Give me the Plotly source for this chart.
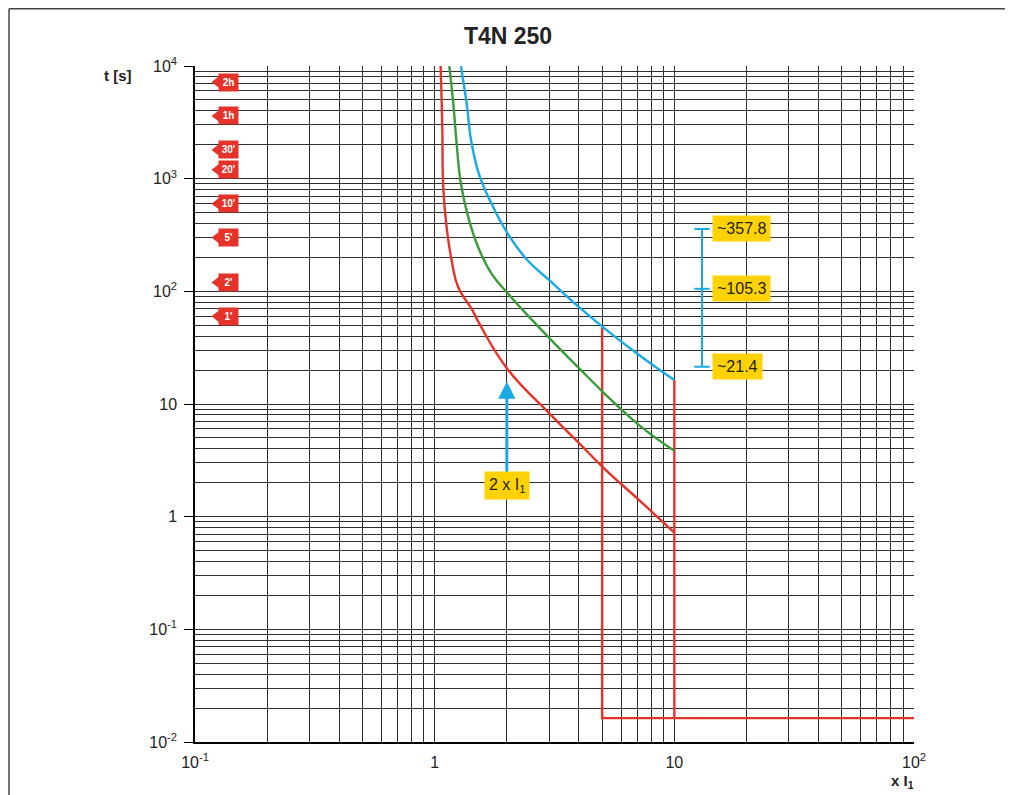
import numpy as np
import plotly.graph_objects as go

# ---------------- data ----------------
# tripping curves (x = multiple of I1, t = seconds)
red_x = [1.059, 1.076, 1.086, 1.122, 1.178, 1.254, 1.427, 1.545, 2.0, 3.03, 4.04, 5.05, 7.19, 10]
red_t = [10000, 2870, 840, 370, 187, 108.6, 69.8, 50.6, 20.8, 8.13, 4.40, 2.73, 1.38, 0.72]

green_x = [1.151, 1.196, 1.235, 1.287, 1.381, 1.52, 1.729, 2.0, 2.307, 3.03, 4.04, 5.05, 7.19, 10]
green_t = [10000, 4630, 2043, 901, 455, 246, 143, 98, 69.8, 37.8, 20.4, 12.7, 6.40, 3.84]

blue_x = [1.287, 1.36, 1.427, 1.545, 1.729, 2.0, 2.382, 3.08, 4.04, 5.05, 7.19, 10]
blue_t = [10000, 4630, 2043, 1031, 598, 335, 200, 120, 71.2, 47.9, 26.8, 16.3]

# instantaneous trip (red)
inst_x = [5, 5, 100, None, 10, 10]
inst_t = [47.9, 0.0163, 0.0163, None, 16.3, 0.0163]

# values read at 2 x I1
at2_values = [357.8, 105.3, 21.4]
at2_labels = ["~357.8", "~105.3", "~21.4"]
marker_multiple = 2

# time tags on the left
tag_labels = ["2h", "1h", "30'", "20'", "10'", "5'", "2'", "1'"]
tag_seconds = [7200, 3600, 1800, 1200, 600, 300, 120, 60]

# axis ticks
x_tickvals = [0.1, 1, 10, 100]
x_ticktext = ["10<sup>-1</sup>", "1", "10", "10<sup>2</sup>"]
y_tickvals = [0.01, 0.1, 1, 10, 100, 1000, 10000]
y_ticktext = ["10<sup>-2</sup>", "10<sup>-1</sup>", "1", "10",
              "10<sup>2</sup>", "10<sup>3</sup>", "10<sup>4</sup>"]

# ---------------- styles ----------------
RED = "#e5332a"
GREEN = "#3a9a3c"
BLUE = "#1aa9e3"
YELLOW = "#ffd200"
GRID = "#2e2e2e"
TXT = "#222222"
FONT = "Liberation Sans, Arial, sans-serif"

OFF = 8                      # page (body) offset of the figure inside the window
W, H = 1013 - 2 * OFF, 795 - OFF
ML, MT = 195 - OFF, 66 - OFF
MR = W - (914 - OFF)
MB = H - (742 - OFF)
PW, PH = W - ML - MR, H - MT - MB
X_RANGE = [-1, 2]
Y_RANGE = [-2, 4]


def px_to_xpaper(px):
    return (px - OFF - ML) / PW


def py_to_ypaper(py):
    return (H - MB - (py - OFF)) / PH


def px_to_xdata(px):
    return 10 ** (X_RANGE[0] + px_to_xpaper(px) * (X_RANGE[1] - X_RANGE[0]))


minor_x = [k * 10.0 ** d for d in range(-1, 2) for k in range(2, 10)]
minor_y = [k * 10.0 ** d for d in range(-2, 4) for k in range(2, 10)]

fig = go.Figure()

line_w = 2.4
smooth = 1.3
fig.add_trace(go.Scatter(x=inst_x, y=inst_t, mode="lines",
                         line=dict(color=RED, width=line_w), hoverinfo="skip"))
fig.add_trace(go.Scatter(x=red_x, y=red_t, mode="lines",
                         line=dict(color=RED, width=line_w, shape="spline", smoothing=smooth)))
fig.add_trace(go.Scatter(x=green_x, y=green_t, mode="lines",
                         line=dict(color=GREEN, width=line_w, shape="spline", smoothing=smooth)))
fig.add_trace(go.Scatter(x=blue_x, y=blue_t, mode="lines",
                         line=dict(color=BLUE, width=line_w, shape="spline", smoothing=smooth)))

# blue range bar at the right
bar_x = px_to_xdata(702)
fig.add_trace(go.Scatter(x=[bar_x] * len(at2_values), y=at2_values, mode="lines+markers",
                         line=dict(color=BLUE, width=2),
                         marker=dict(symbol="line-ew", size=11,
                                     line=dict(color=BLUE, width=2))))

# tag arrow tips
tip_x = px_to_xdata(218.5)
fig.add_trace(go.Scatter(x=[tip_x] * len(tag_seconds), y=tag_seconds, mode="markers",
                         marker=dict(symbol="triangle-left", size=14, color=RED,
                                     line=dict(width=0)),
                         hoverinfo="skip"))

annotations = []
# tag bodies
for lab, sec in zip(tag_labels, tag_seconds):
    annotations.append(dict(
        x=px_to_xpaper(228.5), xref="paper", y=np.log10(sec), yref="y",
        text="<b>" + lab + "</b>", showarrow=False, xanchor="center", yanchor="middle",
        width=19, height=17, borderpad=0, bgcolor=RED,
        font=dict(family=FONT, size=10, color="white")))

# value labels at 2 x I1
for lab, v in zip(at2_labels, at2_values):
    annotations.append(dict(
        x=px_to_xpaper(712), xref="paper", y=np.log10(v), yref="y",
        text=lab, showarrow=False, xanchor="left", yanchor="middle",
        bgcolor=YELLOW, borderpad=4,
        font=dict(family=FONT, size=16, color=TXT)))

# 2 x I1 arrow label
annotations.append(dict(
    x=np.log10(marker_multiple), xref="x", y=np.log10(15.85), yref="y",
    text="2 x I<sub>1</sub>", showarrow=True, ax=0, ay=104,
    arrowcolor=BLUE, arrowwidth=3, arrowhead=2, arrowsize=1.15,
    bgcolor=YELLOW, borderpad=4,
    font=dict(family=FONT, size=16, color=TXT)))

# axis titles
annotations.append(dict(
    x=px_to_xpaper(118), xref="paper", y=py_to_ypaper(75), yref="paper",
    text="<b>t [s]</b>", showarrow=False, xanchor="center", yanchor="middle",
    font=dict(family=FONT, size=15, color=TXT)))
annotations.append(dict(
    x=px_to_xpaper(902), xref="paper", y=py_to_ypaper(781), yref="paper",
    text="<b>x I<sub>1</sub></b>", showarrow=False, xanchor="center", yanchor="middle",
    font=dict(family=FONT, size=15, color=TXT)))

frame = dict(color="#444444", width=1.5)
shapes = [
    dict(type="line", xref="paper", yref="paper",
         x0=px_to_xpaper(9), x1=px_to_xpaper(1013),
         y0=py_to_ypaper(8.8), y1=py_to_ypaper(8.8), line=frame, layer="above"),
    dict(type="line", xref="paper", yref="paper",
         x0=px_to_xpaper(9), x1=px_to_xpaper(9),
         y0=py_to_ypaper(8.8), y1=py_to_ypaper(795), line=frame, layer="above"),
]

fig.update_layout(
    width=W, height=H,
    margin=dict(l=ML, r=MR, t=MT, b=MB),
    paper_bgcolor="white", plot_bgcolor="white",
    showlegend=False,
    font=dict(family=FONT, color=TXT),
    title=dict(text="<b>T4N 250</b>", xref="container", yref="container",
               x=(508 - OFF) / W, y=1 - (36 - OFF) / H, xanchor="center", yanchor="middle",
               font=dict(family=FONT, size=23, color=TXT)),
    annotations=annotations,
    shapes=shapes,
    xaxis=dict(type="log", range=X_RANGE, tickmode="array",
               tickvals=x_tickvals, ticktext=x_ticktext,
               showgrid=True, gridcolor=GRID, gridwidth=1,
               minor=dict(tickmode="array", tickvals=minor_x, showgrid=True,
                          gridcolor=GRID, gridwidth=1, ticks=""),
               showline=True, linecolor="black", linewidth=1.5,
               ticks="", zeroline=False, ticklabelstandoff=5,
               tickfont=dict(family=FONT, size=16, color=TXT)),
    yaxis=dict(type="log", range=Y_RANGE, tickmode="array",
               tickvals=y_tickvals, ticktext=y_ticktext,
               showgrid=True, gridcolor=GRID, gridwidth=1,
               minor=dict(tickmode="array", tickvals=minor_y, showgrid=True,
                          gridcolor=GRID, gridwidth=1, ticks=""),
               showline=True, linecolor="black", linewidth=1.5,
               ticks="outside", ticklen=9, tickcolor="black", tickwidth=1,
               zeroline=False, ticklabelstandoff=4,
               tickfont=dict(family=FONT, size=16, color=TXT)),
)

fig.write_html("out.html")
